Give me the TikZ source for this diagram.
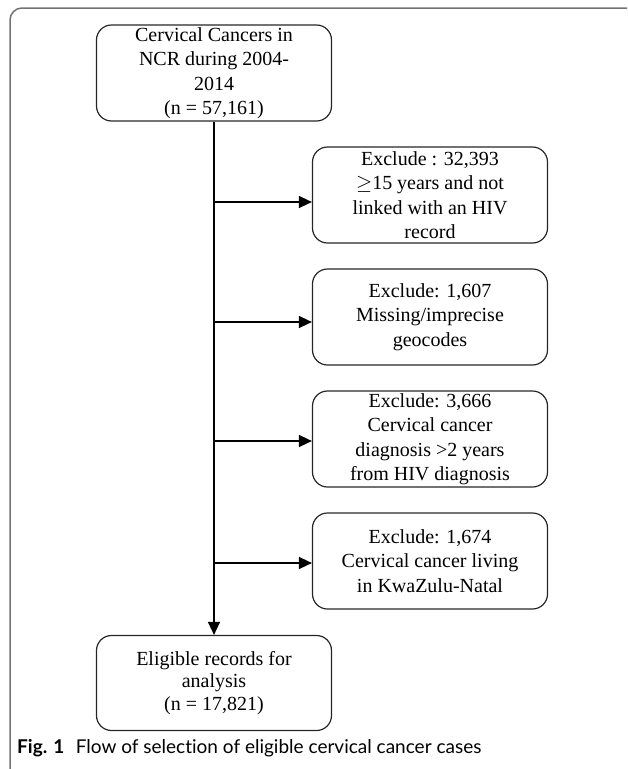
\documentclass[tikz,border=0pt]{standalone}
\usepackage{fontspec}
\setmainfont{Liberation Serif}
\newfontfamily\capfont[Ligatures={NoCommon,NoRare,NoDiscretionary}]{Lato}
\usetikzlibrary{arrows.meta}

\begin{document}
\begin{tikzpicture}[
  x=1pt, y=-1pt,
  box/.style={draw=black!85, line width=1.2pt, rounded corners=15pt,
    minimum width=235pt, minimum height=96pt, inner sep=0pt,
    align=center, font=\fontsize{20}{24.5}\selectfont},
  arr/.style={line width=1.5pt, -{Triangle[length=13pt,width=12pt]}}
]
\useasboundingbox (0,0) rectangle (627,769);
\clip (0,0) rectangle (627,769);
% frame of the figure
\draw[black!55, line width=1.5pt, rounded corners=12pt] (10,8) rectangle (680,820);

\node[box] (ncr) at (214,73) {Cervical Cancers in\\NCR during 2004-\\2014\\(n = 57,161)};
\node[box] (excl1) at (430,195) {Exclude : 32,393\\$\geq$15 years and not\\linked with an HIV\\record};
\node[box] (excl2) at (430,317) {Exclude: 1,607\\Missing/imprecise\\geocodes};
\node[box] (excl3) at (430,439) {Exclude: 3,666\\Cervical cancer\\diagnosis >2 years\\from HIV diagnosis};
\node[box] (excl4) at (430,561) {Exclude: 1,674\\Cervical cancer living\\in KwaZulu-Natal};
\node[box, minimum height=95pt, font=\fontsize{20}{22.5}\selectfont] (eligible) at (214,683) {Eligible records for\\analysis\\(n = 17,821)};

\draw[arr] (ncr.south) -- (eligible.north);
\draw[arr] (ncr.south |- 0,202) -- ([yshift=-7pt]excl1.west);
\draw[arr] (ncr.south |- 0,322) -- ([yshift=-5pt]excl2.west);
\draw[arr] (ncr.south |- 0,441) -- ([yshift=-2pt]excl3.west);
\draw[arr] (ncr.south |- 0,563) -- ([yshift=-2pt]excl4.west);

\node[anchor=base west, inner sep=0pt, font=\capfont\fontsize{19}{21}\selectfont] (caption) at (17,753)
  {\textbf{Fig. 1}\hspace{0.6em}Flow of selection of eligible cervical cancer cases};
\end{tikzpicture}
\end{document}
